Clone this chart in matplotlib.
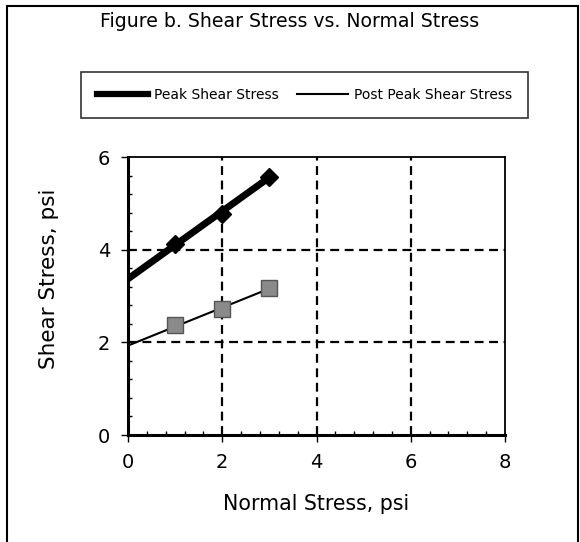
import matplotlib.pyplot as plt
from matplotlib.patches import Rectangle
from matplotlib.ticker import MultipleLocator

# data
normal_stress = [1, 2, 3]
peak_shear = [4.12, 4.77, 5.57]
post_peak_shear = [2.38, 2.71, 3.18]

# linear trend lines drawn from x=0 to x=3
trend_x = [0, 3]
peak_fit = [3.37, 5.56]
post_fit = [1.93, 3.16]

plt.rcParams['font.family'] = ['DejaVu Sans']

fig = plt.figure(figsize=(5.8, 5.42), dpi=100)
ax = fig.add_axes([0.2207, 0.1974, 0.65, 0.5129])

# grid
for gx in [2, 4, 6]:
    ax.axvline(gx, color='black', ls=(0, (4, 2.5)), lw=1.6, zorder=1)
for gy in [2, 4]:
    ax.axhline(gy, color='black', ls=(0, (4, 2.5)), lw=1.6, zorder=1)

# series
ax.plot(trend_x, peak_fit, color='black', lw=5, solid_capstyle='butt', zorder=3)
ax.plot(normal_stress, peak_shear, ls='none', marker='D', ms=9, color='black', zorder=4)
ax.plot(trend_x, post_fit, color='black', lw=1.5, zorder=3)
ax.plot(normal_stress, post_peak_shear, ls='none', marker='s', ms=12,
        markerfacecolor='#8a8a8a', markeredgecolor='#555555', markeredgewidth=1, zorder=4)

ax.set_xlim(0, 8)
ax.set_ylim(0, 6)
ax.xaxis.set_major_locator(MultipleLocator(2))
ax.yaxis.set_major_locator(MultipleLocator(2))
ax.xaxis.set_minor_locator(MultipleLocator(0.4))
ax.yaxis.set_minor_locator(MultipleLocator(0.4))
ax.tick_params(which='major', direction='out', length=5, width=1, labelsize=14, pad=8)
ax.tick_params(which='minor', direction='in', length=3, width=1)

ax.spines['left'].set_linewidth(2.2)
ax.spines['bottom'].set_linewidth(2.2)
ax.spines['top'].set_linewidth(1.3)
ax.spines['right'].set_linewidth(1.3)

ax.set_xlabel('Normal Stress, psi', fontsize=14.8, labelpad=16)
ax.set_ylabel('Shear Stress, psi', fontsize=15.5, labelpad=28, y=0.563)

fig.text(0.5, 0.96, 'Figure b. Shear Stress vs. Normal Stress', ha='center', va='center', fontsize=13.6)

# legend
h1, = ax.plot([], [], color='black', lw=4.5)
h2, = ax.plot([], [], color='black', lw=1.5)
leg = fig.legend([h1, h2], ['Peak Shear Stress', 'Post Peak Shear Stress'],
                 loc='center', bbox_to_anchor=(0.525, 0.825), ncol=2, fontsize=10,
                 frameon=True, fancybox=False, edgecolor='black', handlelength=3.7,
                 columnspacing=1.3, borderpad=1.15, borderaxespad=0, handletextpad=0.4)
leg.get_frame().set_linewidth(1.2)

# outer border
fig.patches.append(Rectangle((0.012, -0.01), 0.985, 0.999, transform=fig.transFigure,
                             fill=False, edgecolor='black', lw=1.5))

fig.savefig('out.png', dpi=100)
plt.close()
